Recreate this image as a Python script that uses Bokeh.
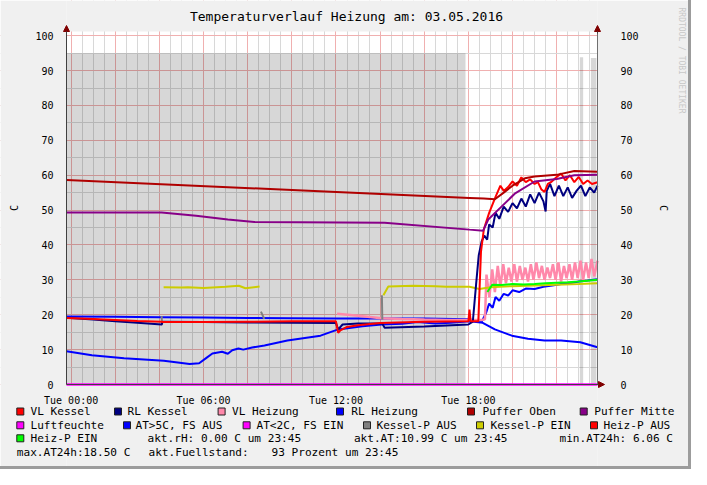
import math
from bokeh.plotting import figure
from bokeh.models import (Range1d, LinearAxis, FixedTicker, SingleIntervalTicker,
                          Arrow, NormalHead)
from bokeh.layouts import column
from bokeh.embed import file_html
from bokeh.resources import INLINE
from bokeh.core.properties import value

FONT = "DejaVu Sans Mono"
nan = float("nan")

# ---------------- data (hours of the day, values in C) ----------------
title_text = "Temperaturverlauf Heizung am: 03.05.2016"
watermark = "RRDTOOL / TOBI OETIKER"
x_tick_hours = [0, 6, 12, 18]
x_tick_labels = ["Tue 00:00", "Tue 06:00", "Tue 12:00", "Tue 18:00"]
y_ticks = [0, 10, 20, 30, 40, 50, 60, 70, 80, 90, 100]

# Fuellstand shading (gray area)
fs_start = [-0.21, 23.05, 23.55]
fs_end = [17.87, 23.20, 23.80]
fs_level = [95.0, 93.8, 93.6]

lf_t = [-0.21, 23.85]
lf_v = [0.0, 0.0]

at_t = [-0.21, 0.94, 2.4, 4.2, 5.37, 5.8, 6.1, 6.4, 6.84, 7.1, 7.3, 7.58, 7.8, 8.2, 8.76,
        9.8, 11.3, 12.1, 13.2, 14.07, 15.0, 15.7, 16.5, 17.2, 18.05, 18.65, 19.2, 19.97,
        20.7, 21.45, 22.2, 23.07, 23.85]
at_v = [9.5, 8.4, 7.5, 6.8, 5.9, 6.1, 7.5, 8.9, 9.4, 8.8, 9.8, 10.3, 10.0, 10.6, 11.2,
        12.6, 14.0, 15.8, 16.7, 17.2, 17.4, 17.9, 17.5, 17.7, 18.1, 17.7, 15.8, 14.0,
        13.1, 12.6, 12.6, 12.1, 10.7]

rlh_t = [-0.21, 2, 4, 6, 8, 10, 12, 14, 16, 18.0, 18.6, 18.8, 18.94, 19.1, 19.23, 19.4,
         19.6, 19.8, 20.0, 20.3, 20.6, 21.0, 21.4, 21.8, 22.2, 22.6, 23.0, 23.4, 23.85]
rlh_v = [19.5, 19.4, 19.3, 19.2, 19.1, 19.0, 18.9, 18.9, 18.9, 18.7, 18.0, 20.5, 23.2, 22.0,
         25.1, 24.0, 26.0, 25.5, 27.0, 26.5, 27.5, 27.4, 28.0, 28.4, 28.8, 29.0, 29.5, 29.8, 30.2]

vlh_t = [12.05, 13.0, 14.07, 15.0, 16.0, 17.0, 18.0, 18.6, 18.75, 18.82, 18.95, 19.08,
         19.2, 19.33, 19.45, 19.58, 19.7, 19.83, 19.95, 20.08, 20.2, 20.33, 20.45, 20.58,
         20.7, 20.83, 20.95, 21.08, 21.2, 21.33, 21.45, 21.58, 21.7, 21.83, 21.95, 22.08,
         22.2, 22.33, 22.45, 22.58, 22.7, 22.83, 22.95, 23.08, 23.2, 23.33, 23.45, 23.58,
         23.7, 23.85]
vlh_v = [20.3, 19.7, 19.0, 18.8, 18.6, 18.5, 18.5, 18.5, 18.7, 31.5, 25.0, 33.0,
         26.5, 34.0, 28.0, 34.5, 29.0, 33.5, 29.5, 34.5, 29.5, 34.0, 30.0, 33.5,
         29.5, 34.5, 30.0, 35.0, 30.5, 34.0, 30.0, 33.5, 30.5, 34.5, 30.0, 35.0,
         29.5, 34.0, 30.5, 34.5, 30.0, 35.0, 30.5, 35.5, 30.0, 35.0, 30.5, 36.0,
         31.0, 35.5]

kpe_t = [4.19, 5.0, 5.3, 6.0, 7.0, 7.6, 7.9, 8.54, nan, 14.15, 14.37, 15.5, 16.5, 17.0,
         18.05, 18.5, 19.0, 20.0, 21.0, 22.0, 23.0, 23.85]
kpe_v = [27.9, 27.8, 27.9, 27.7, 28.0, 28.3, 27.6, 28.1, nan, 25.6, 28.1, 28.3, 28.2, 28.0,
         28.0, 27.4, 27.9, 28.2, 28.4, 28.6, 28.8, 29.0]

kpa_t = [4.10, 4.12, nan, 8.60, 8.75, nan, 14.08, 14.10]
kpa_v = [19.6, 17.0, nan, 20.9, 18.8, nan, 25.6, 18.6]

hpe_t = [18.86, 19.08, 19.5, 20.0, 20.5, 21.0, 21.5, 22.0, 22.5, 23.0, 23.5, 23.85]
hpe_v = [26.5, 28.6, 28.5, 28.8, 28.7, 28.8, 29.0, 29.2, 29.3, 29.5, 29.8, 30.0]

rlk_t = [-0.21, 1, 2, 3, 4.1, 4.15, 6, 8, 10, 12.0, 12.1, 12.3, 13, 14.1, 14.2, 16, 18.0,
         18.2, 18.35, 18.47, 18.6, 18.72, 18.85, 18.94, 19.1, 19.23, 19.4, 19.6, 19.8,
         20.0, 20.2, 20.4, 20.6, 20.8, 21.0, 21.2, 21.4, 21.5, 21.55, 21.7, 21.9, 22.1,
         22.3, 22.5, 22.7, 22.9, 23.1, 23.3, 23.5, 23.7, 23.85]
rlk_v = [19.1, 18.6, 18.1, 17.7, 17.2, 18.0, 17.9, 17.8, 17.7, 17.6, 15.8, 17.2, 17.5,
         17.5, 16.3, 16.6, 17.2, 18.0, 28.8, 37.1, 41.0, 42.7, 41.5, 45.9, 45.0, 49.2,
         47.5, 51.0, 49.5, 52.0, 50.5, 53.3, 51.0, 54.5, 52.0, 55.0, 52.5, 49.6, 55.5,
         57.5, 54.0, 57.0, 54.0, 56.5, 53.5, 55.5, 57.0, 54.0, 56.5, 55.0, 57.0]

vlk_t = [-0.21, 1, 2, 3, 4.1, 4.15, 6, 8, 10, 12.0, 12.1, 12.2, 12.5, 13, 14, 16, 18.0,
         18.05, 18.1, 18.15, 18.45, 18.57, 18.7, 18.94, 19.23, 19.45, 19.6, 19.8, 20.0,
         20.2, 20.4, 20.6, 20.8, 21.0, 21.15, 21.3, 21.45, 21.6, 21.74, 22.0, 22.2, 22.4,
         22.6, 22.8, 23.0, 23.2, 23.4, 23.6, 23.85]
vlk_v = [19.1, 18.8, 18.5, 18.2, 18.0, 17.9, 17.9, 18.0, 18.1, 18.1, 14.8, 15.5, 16.5,
         17.0, 17.6, 18.0, 18.1, 21.5, 18.2, 18.1, 18.1, 38.0, 44.5, 49.2, 53.8, 57.0,
         55.5, 56.6, 58.2, 57.0, 59.4, 58.0, 58.8, 57.5, 58.0, 56.0, 55.2, 57.5, 58.0,
         59.5, 60.5, 58.5, 60.0, 58.0, 59.5, 57.5, 58.5, 57.5, 58.0]

pm_t = [-0.21, 4.1, 5.66, 7.1, 8.3, 14.2, 18.05, 18.67, 18.9, 19.5, 20.1, 21.0, 22.0, 22.8, 23.85]
pm_v = [49.3, 49.3, 48.4, 47.3, 46.6, 46.4, 44.4, 44.1, 47.3, 51.0, 54.7, 58.2, 58.9, 60.0, 60.1]

po_t = [-0.21, 8.76, 18.05, 18.7, 19.2, 19.6, 20.0, 20.56, 21.0, 22.0, 22.8, 23.85]
po_v = [58.6, 56.1, 53.5, 53.3, 53.1, 55.0, 57.0, 59.1, 59.6, 60.1, 61.2, 61.0]

legend_names = ["VL Kessel", "RL Kessel", "VL Heizung", "RL Heizung", "Puffer Oben", "Puffer Mitte",
                "Luftfeuchte", "AT>5C, FS AUS", "AT<2C, FS EIN", "Kessel-P AUS", "Kessel-P EIN",
                "Heiz-P AUS", "Heiz-P EIN"]
legend_colors = ["#FF0000", "#000080", "#FF88AA", "#0000FF", "#B00000", "#880088",
                 "#FF00FF", "#0000FF", "#FF00FF", "#808080", "#CCCC00", "#FF0000", "#00FF00"]
stat_texts = ["akt.rH: 0.00 C um 23:45", "akt.AT:10.99 C um 23:45", "min.AT24h: 6.06 C",
              "max.AT24h:18.50 C", "akt.Fuellstand:", "93 Prozent um 23:45"]

for a, b in [(at_t, at_v), (rlh_t, rlh_v), (vlh_t, vlh_v), (kpe_t, kpe_v), (kpa_t, kpa_v),
             (hpe_t, hpe_v), (rlk_t, rlk_v), (vlk_t, vlk_v), (pm_t, pm_v), (po_t, po_v)]:
    assert len(a) == len(b), (len(a), len(b))

# ---------------- layout constants (pixels) ----------------
W, H = 688, 466
FL, FR, FT, FB = 66, 597, 31, 384          # chart area edges on the canvas
X0, X1 = -0.21, 23.85
Y0, Y1 = 0.0, 101.2
dx = (X1 - X0) / (FR - FL)
dy = (Y1 - Y0) / (FB - FT)


def dxs(sx):   # canvas x -> data x
    return X0 + (sx - FL) * dx


def dys(sy):   # canvas y -> data y
    return Y0 - (sy - FB) * dy


XS, XE = dxs(0), dxs(W)
YS, YE = dys(H), dys(0)
BG = "#F0F0F0"

p = figure(width=W, height=H, x_range=Range1d(XS, XE), y_range=Range1d(YS, YE),
           output_backend="svg", toolbar_location=None, min_border=0,
           x_axis_location=None, y_axis_location=None,
           background_fill_color="white", border_fill_color=BG, outline_line_color=None)

# grid
p.xgrid.ticker = SingleIntervalTicker(interval=2, num_minor_ticks=4)
p.ygrid.ticker = SingleIntervalTicker(interval=10, num_minor_ticks=2)
for g in (p.xgrid, p.ygrid):
    g.grid_line_color = "#F0B0B0"
    g.grid_line_width = 1
    g.minor_grid_line_color = "#D8D8D8"
    g.minor_grid_line_width = 1

# mask everything outside the chart area with the page colour
p.quad(left=[XS, X1, X0, X0], right=[X0, XE, X1, X1], bottom=[YS, YS, Y1, YS],
       top=[YE, YE, YE, Y0], fill_color=BG, line_color=None)

# axes (fixed inside the canvas)
xa = LinearAxis(ticker=FixedTicker(ticks=x_tick_hours), fixed_location=Y0, bounds=(X0, X1))
xa.major_label_overrides = {h: lab for h, lab in zip(x_tick_hours, x_tick_labels)}
ya = LinearAxis(ticker=FixedTicker(ticks=y_ticks), fixed_location=X0, bounds=(Y0, Y1),
                axis_label="C")
ra = LinearAxis(ticker=FixedTicker(ticks=y_ticks), fixed_location=X1, bounds=(Y0, Y1),
                axis_label="C")
p.add_layout(xa, "below")
p.add_layout(ya, "left")
p.add_layout(ra, "right")
for ax in (xa, ya, ra):
    ax.axis_line_color = "#404040"
    ax.axis_line_width = 1
    ax.major_tick_line_color = None
    ax.minor_tick_line_color = None
    ax.major_label_text_font = FONT
    ax.major_label_text_font_size = "10px"
    ax.major_label_text_color = "black"
    ax.axis_label_text_font = FONT
    ax.axis_label_text_font_size = "10px"
    ax.axis_label_text_font_style = "normal"
    ax.axis_label_text_color = "black"
ra.axis_line_color = "#707070"
xa.major_label_standoff = 4
ya.major_label_standoff = 7
ya.axis_label_standoff = 12
ra.major_label_standoff = 17
ra.axis_label_standoff = 16

# title and watermark
p.text(x=[dxs(346)], y=[dys(15.5)], text=[title_text], text_align="center",
       text_baseline="middle", text_font=value(FONT), text_font_size="13px", text_color="black")
p.text(x=[dxs(681)], y=[dys(7)], text=[watermark], angle=-math.pi / 2, text_align="left",
       text_baseline="middle", text_font=value(FONT), text_font_size="8px", text_color="#C8C8C8")

# fill level shading
p.quad(left=fs_start, right=fs_end, bottom=0, top=fs_level, fill_color="#000000",
       fill_alpha=0.155, line_color=None)

LW = 2
p.line(lf_t, lf_v, line_color="#FF00FF", line_width=2.5)
p.line(at_t, at_v, line_color="#0000FF", line_width=LW)
p.line(rlh_t, rlh_v, line_color="#0000FF", line_width=LW)
p.line(vlh_t, vlh_v, line_color="#FF88AA", line_width=2.5)
p.line(kpe_t, kpe_v, line_color="#CCCC00", line_width=LW)
p.line(kpa_t, kpa_v, line_color="#808080", line_width=LW)
p.line(hpe_t, hpe_v, line_color="#00FF00", line_width=LW)
p.line(rlk_t, rlk_v, line_color="#000080", line_width=LW)
p.line(vlk_t, vlk_v, line_color="#FF0000", line_width=LW)
p.line(pm_t, pm_v, line_color="#880088", line_width=LW)
p.line(po_t, po_v, line_color="#B00000", line_width=LW)

# axis arrows
for xs, ys, xe, ye in [(X0, Y1 - 2 * dy, X0, Y1 + 6 * dy),
                       (X1, Y1 - 2 * dy, X1, Y1 + 6 * dy),
                       (X1 - 2 * dx, Y0, X1 + 7 * dx, Y0)]:
    p.add_layout(Arrow(end=NormalHead(size=6, fill_color="#800000", line_color="#800000"),
                       x_start=xs, y_start=ys, x_end=xe, y_end=ye,
                       line_color="#404040", line_width=1))

# ---------------- legend below the chart ----------------
rows_y = [411, 424.8, 437.8, 451.9]
sq_x = [16.3, 114, 217.6, 336, 467, 579.7,
        16.3, 123, 242.6, 363, 476, 590,
        16.3]
tx_x = [30, 127, 231.5, 350.7, 482, 593.7,
        30, 135, 256, 376, 490, 603,
        30]
row_of = [0] * 6 + [1] * 6 + [2]
TF = "11.1px"
SQ = 7
p.quad(left=[dxs(s) for s in sq_x], right=[dxs(s + SQ) for s in sq_x],
       top=[dys(rows_y[r] - SQ / 2) for r in row_of], bottom=[dys(rows_y[r] + SQ / 2) for r in row_of],
       fill_color=legend_colors, line_color="#202020", line_width=1)
p.text(x=[dxs(t) for t in tx_x], y=[dys(rows_y[r]) for r in row_of], text=legend_names,
       text_baseline="middle", text_font=value(FONT), text_font_size=TF, text_color="black")

stat_x = [147, 353.4, 559, 16.3, 148, 271]
stat_row = [2, 2, 2, 3, 3, 3]
p.text(x=[dxs(s) for s in stat_x], y=[dys(rows_y[r]) for r in stat_row], text=stat_texts,
       text_baseline="middle", text_font=value(FONT), text_font_size=TF, text_color="black")

layout = column(p, styles={"border-right": "3px solid #9C9C9C", "border-bottom": "3px solid #9C9C9C"})

open("out.html", "w").write(file_html(layout, INLINE))
